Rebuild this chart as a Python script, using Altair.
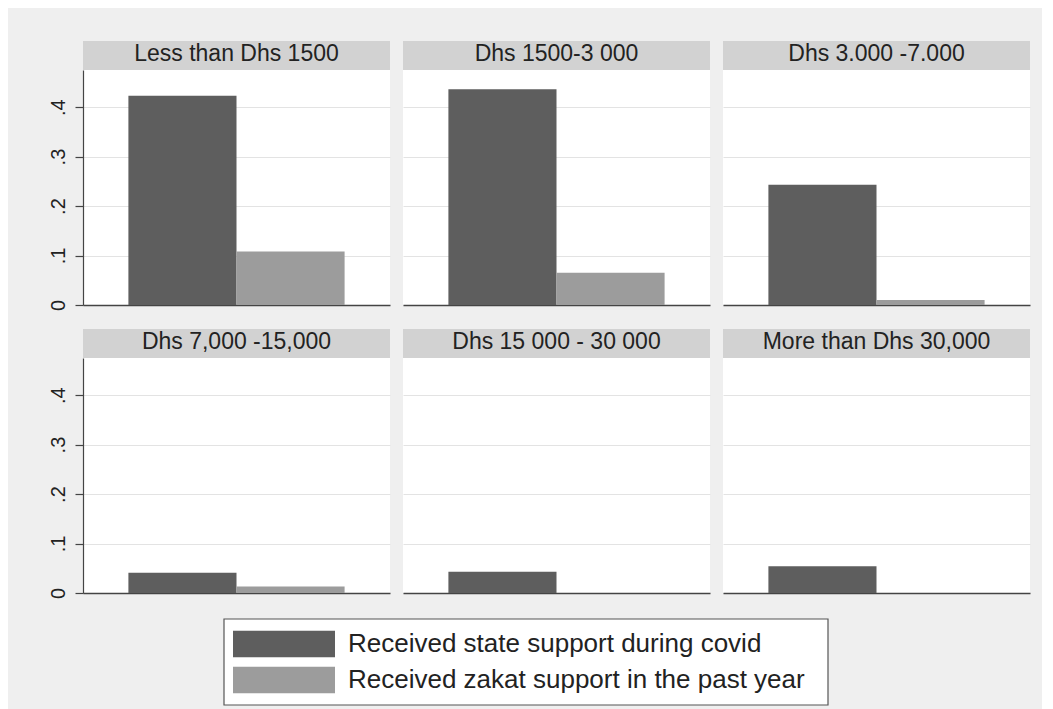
import altair as alt
import pandas as pd

# ---- data ----
categories = [
    "Less than Dhs 1500",
    "Dhs 1500-3 000",
    "Dhs 3.000 -7.000",
    "Dhs 7,000 -15,000",
    "Dhs 15 000 - 30 000",
    "More than Dhs 30,000",
]
series = [
    "Received state support during covid",
    "Received zakat support in the past year",
]
state_support = [0.423, 0.436, 0.243, 0.041, 0.043, 0.054]
zakat_support = [0.108, 0.065, 0.010, 0.013, 0.0, 0.0]
y_ticks = [0, 0.1, 0.2, 0.3, 0.4]

rows = []
for c, s, z in zip(categories, state_support, zakat_support):
    rows.append({"cat": c, "series": series[0], "value": s})
    rows.append({"cat": c, "series": series[1], "value": z})
df = pd.DataFrame(rows)

FONT = "Liberation Sans"
W, H = 307, 235
colors = ["#5e5e5e", "#9c9c9c"]
color_scale = alt.Scale(domain=series, range=colors)
label_expr = "datum.value == 0 ? '0' : replace(format(datum.value, '.1f'), '0.', '.')"


def panel(i):
    cat = categories[i]
    if i % 3 == 0:
        yaxis = alt.Axis(values=y_ticks, labelExpr=label_expr, labelAngle=270,
                         labelAlign="center", labelBaseline="bottom",
                         labelFontSize=20, labelFont=FONT, labelColor="#222",
                         labelPadding=7, tickSize=8, tickColor="#444", tickWidth=1.2,
                         domainColor="#444", domainWidth=1.2, grid=True,
                         gridColor="#e3e3e3", gridWidth=1, title=None)
    else:
        yaxis = alt.Axis(values=y_ticks, labels=False, ticks=False, domain=False,
                         grid=True, gridColor="#e3e3e3", gridWidth=1, title=None)
    bars = alt.Chart(df).transform_filter(alt.datum.cat == cat).mark_bar().encode(
        x=alt.X("series:N", sort=series,
                scale=alt.Scale(domain=series, paddingInner=0, paddingOuter=0.42),
                axis=alt.Axis(labels=False, ticks=False, title=None,
                              domainColor="#444", domainWidth=1.5)),
        y=alt.Y("value:Q", scale=alt.Scale(domain=[0, 0.475], nice=False), axis=yaxis),
        color=alt.Color("series:N", scale=color_scale, legend=None),
    )
    hdf = pd.DataFrame({"cat": [cat]})
    header = alt.Chart(hdf).mark_rect(color="#d2d2d2").encode(
        x=alt.value(0), x2=alt.value(W), y=alt.value(-29), y2=alt.value(0))
    label = alt.Chart(hdf).mark_text(font=FONT, fontSize=23, color="#222",
                                     baseline="alphabetic").encode(
        x=alt.value(W / 2), y=alt.value(-9), text="cat:N")
    return alt.layer(header, label, bars).properties(width=W, height=H)


row1 = alt.hconcat(*[panel(i) for i in range(0, 3)], spacing=13)
row2 = alt.hconcat(*[panel(i) for i in range(3, 6)], spacing=13)

# ---- legend box ----
LX = 141
leg_df = pd.DataFrame({"series": series})
box = alt.Chart(pd.DataFrame({"b": [0]})).mark_rect(
    fill="white", stroke="#555", strokeWidth=1.2).encode(
    x=alt.value(LX), x2=alt.value(LX + 604), y=alt.value(0), y2=alt.value(86))
ly = alt.Y("series:N", sort=series,
           scale=alt.Scale(domain=series, paddingInner=0.27, paddingOuter=0.33),
           axis=None)
swatch = alt.Chart(leg_df).mark_rect().encode(
    x=alt.value(LX + 9), x2=alt.value(LX + 111), y=ly,
    color=alt.Color("series:N", scale=color_scale, legend=None))
ltext = alt.Chart(leg_df).mark_text(align="left", baseline="middle", fontSize=26,
                                    font=FONT, color="#222").encode(
    x=alt.value(LX + 124), y=ly, text="series:N")
legend = alt.layer(box, swatch, ltext).properties(
    width=760, height=86,
    view=alt.ViewBackground(fill="transparent", strokeWidth=0))

panels = alt.vconcat(row1, row2, spacing=18)
chart = alt.vconcat(panels, legend, spacing=19).properties(
    padding={"left": 39, "top": 33, "right": 12, "bottom": 3},
    background="#efefef",
).configure_view(fill="white", strokeWidth=0)

chart.save("out.html", embed_options={"renderer": "svg", "actions": False})
